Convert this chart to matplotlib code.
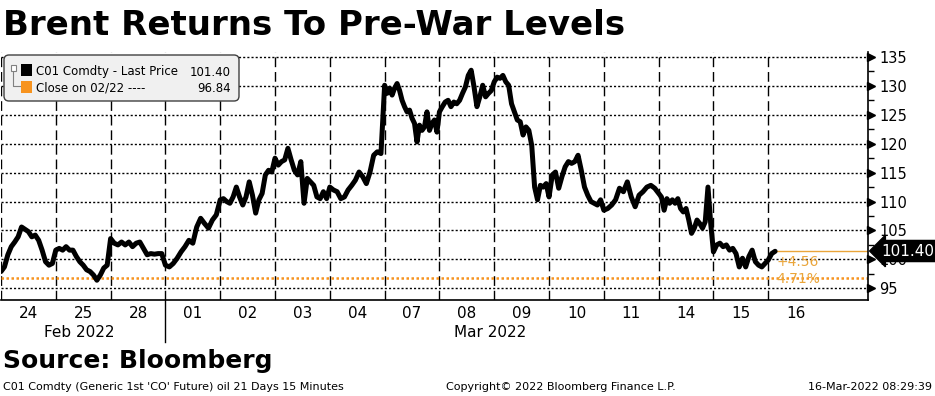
import numpy as np
import matplotlib
matplotlib.use("Agg")
import matplotlib.pyplot as plt
import matplotlib.transforms as mtransforms
from matplotlib.patches import FancyBboxPatch, Rectangle
from matplotlib.lines import Line2D

plt.rcParams["font.family"] = ["DejaVu Sans"]

# trading days shown on the x axis
day_labels = ["24", "25", "28", "01", "02", "03", "04", "07", "08", "09", "10", "11", "14", "15", "16"]

# C01 Comdty, 15 minute closes, one list per trading day
d24 = [97.9, 98.7, 100.8, 102.2, 103.0, 103.9, 105.6, 105.2, 104.8, 103.9, 104.2, 103.3, 101.6, 99.6, 99.0, 99.3]
d25 = [101.6, 101.9, 101.6, 102.2, 101.6, 101.6, 100.5, 99.6, 99.0, 98.2, 97.9, 97.3, 96.4, 97.3, 98.5, 99.0]
d28 = [103.6, 102.8, 102.5, 103.0, 102.5, 103.0, 102.2, 102.8, 103.0, 101.9, 100.8, 101.0, 100.9, 101.0, 101.0]
d01 = [99.0, 98.7, 99.3, 100.2, 101.3, 102.2, 103.3, 102.8, 105.6, 107.1, 106.2, 105.4, 106.8, 107.7]
d02 = [110.3, 110.5, 110.0, 109.7, 110.8, 112.5, 110.8, 109.4, 110.8, 113.4, 111.1, 108.0, 110.3, 111.4, 114.6, 115.4, 115.1]
d03 = [117.5, 116.3, 116.9, 117.2, 119.2, 117.2, 115.4, 114.6, 116.9, 109.7, 114.0, 113.4, 112.8, 110.8, 110.5, 111.7, 110.5]
d04 = [112.5, 112.0, 111.7, 110.5, 110.8, 112.0, 112.8, 113.7, 115.1, 114.3, 113.1, 115.1, 118.0, 118.6, 118.3]
d07 = [130.1, 128.7, 129.6, 128.4, 129.6, 130.4, 129.2, 127.5, 126.4, 125.5, 125.8, 124.4, 123.5, 120.3, 123.2,
       122.3, 122.9, 125.5, 122.3, 123.5, 124.1, 122.0]
d08 = [125.5, 126.4, 127.2, 127.5, 126.4, 127.2, 126.9, 127.5, 128.7, 129.8, 131.8, 132.7, 129.8, 126.4, 128.1,
       130.1, 128.1, 128.7, 129.2]
d09 = [130.7, 131.5, 131.3, 131.8, 130.7, 130.1, 126.9, 125.5, 124.1, 123.8, 121.5, 122.9, 122.3, 119.7, 112.5,
       110.3, 112.8, 112.5, 113.1]
d10 = [110.8, 114.6, 115.1, 112.3, 114.3, 116.0, 116.9, 116.6, 116.9, 118.0, 115.4, 112.5, 111.1, 110.0, 109.7, 109.4, 110.3]
d11 = [108.5, 108.8, 109.4, 110.3, 112.3, 111.7, 113.4, 110.8, 109.1, 111.1, 111.7, 112.5, 112.8, 112.3]
d14 = [111.4, 110.8, 108.5, 110.5, 109.7, 110.3, 109.7, 110.5, 108.8, 108.2, 108.8, 106.8, 104.5, 105.4, 106.8,
       106.2, 105.4, 106.5, 112.5, 106.2]
d15 = [101.3, 102.5, 102.8, 102.2, 102.5, 101.6, 101.9, 101.0, 98.7, 100.2, 98.7, 100.5, 101.6, 99.6, 99.0, 98.7, 99.3]
d16 = [99.9, 101.0, 101.40]  # session still open

days = [d24, d25, d28, d01, d02, d03, d04, d07, d08, d09, d10, d11, d14, d15, d16]

close_0222 = 96.84
last_price = 101.40

# x position: day index plus fraction of the session
xs, ys = [], []
for i, vals in enumerate(days):
    n = len(vals) if i < len(days) - 1 else 16
    for j, v in enumerate(vals):
        xs.append(i + j / n)
        ys.append(v)
xs = np.array(xs)
ys = np.array(ys)

W, H = 935, 396
fig = plt.figure(figsize=(W / 100, H / 100), dpi=100)
ax = fig.add_axes([1 / W, 1 - 300 / H, 867 / W, 248 / H])
ax.set_xlim(0, 15.82)
ax.set_ylim(92.98, 135.85)

# grid
for i in range(len(days)):
    ax.axvline(i, color="black", lw=1, ls=(0, (7, 3.5)), zorder=1)
for v in range(95, 140, 5):
    ax.axhline(v, color="black", lw=1, ls=(0, (1.5, 1.5)), zorder=1)

orange = "#f7931e"
amber = "#eaa53a"
ax.axhline(close_0222, color=orange, lw=1.8, ls=(0, (1, 1)), zorder=2)
ax.plot(xs, ys, color="black", lw=3.6, solid_joinstyle="round", solid_capstyle="round", zorder=3)
ax.plot([xs[-1], 15.82], [last_price, last_price], color=amber, lw=1, zorder=2)

chg = last_price - close_0222
pct = chg / close_0222 * 100
ax.annotate(f"+{chg:.2f}", (xs[-1], last_price), xytext=(1, -11), textcoords="offset pixels",
            ha="left", va="center", color=amber, fontsize=10)
ax.annotate(f"{pct:.2f}%", (xs[-1], last_price), xytext=(1, -28), textcoords="offset pixels",
            ha="left", va="center", color=amber, fontsize=10)

# spines / ticks
for s in ["top", "left"]:
    ax.spines[s].set_visible(False)
ax.spines["bottom"].set_linewidth(1.2)
ax.spines["right"].set_linewidth(1.2)

ax.yaxis.tick_right()
ax.set_yticks(range(95, 140, 5))
ax.set_yticks(np.arange(97.5, 136, 5), minor=True)
ax.tick_params(axis="y", which="major", length=0, pad=8, labelsize=10.5)
ax.tick_params(axis="y", which="minor", length=4, width=1, direction="out")
tri = mtransforms.offset_copy(ax.get_yaxis_transform(), fig=fig, x=3, y=0, units="dots")
ax.plot([1] * 9, list(range(95, 140, 5)), ls="none", marker=">", ms=5.5, color="black",
        transform=tri, clip_on=False)

ax.set_xticks(np.arange(len(days)) + 0.5)
ax.set_xticklabels(day_labels)
ax.tick_params(axis="x", length=0, pad=4, labelsize=11)

blend = mtransforms.blended_transform_factory(ax.transData, ax.transAxes)
ax.text(1.43, -0.13, "Feb 2022", transform=blend, ha="center", va="center", fontsize=11)
ax.text(8.93, -0.13, "Mar 2022", transform=blend, ha="center", va="center", fontsize=11)
ax.plot([3, 3], [0, -0.17], transform=blend, color="black", lw=1, clip_on=False)

# last price tag
fig.text(881 / W, 1 - 251 / H, f"{last_price:.2f}", color="white", fontsize=11, ha="left", va="center",
         bbox=dict(boxstyle="larrow,pad=0.2", fc="black", ec="black"), zorder=8)

# legend box
px = mtransforms.IdentityTransform()
fig.patches.append(FancyBboxPatch((4, H - 101), 235, 46, boxstyle="round,pad=0,rounding_size=5",
                                  fc="#f0f0f0", ec="#404040", lw=1, transform=px, figure=fig, zorder=5))
fig.patches.append(Rectangle((10.5, H - 71), 5, 6, fc="white", ec="#808080", lw=0.8, transform=px,
                             figure=fig, zorder=6))
fig.lines.append(Line2D([11.5, 14.5], [H - 68, H - 68], color="#808080", lw=0.7, transform=px, zorder=6))
fig.lines.append(Line2D([13, 13, 20], [H - 71, H - 86, H - 86], color="#808080", lw=0.8, transform=px, zorder=6))
fig.patches.append(Rectangle((21, H - 76), 11, 12, fc="black", ec="none", transform=px, figure=fig, zorder=6))
fig.patches.append(Rectangle((21, H - 93), 11, 12, fc=orange, ec="none", transform=px, figure=fig, zorder=6))
fig.text(36 / W, 1 - 72 / H, "C01 Comdty - Last Price", fontsize=8.5, va="center", zorder=7)
fig.text(231 / W, 1 - 72 / H, f"{last_price:.2f}", fontsize=8.5, va="center", ha="right", zorder=7)
fig.text(36 / W, 1 - 88 / H, "Close on 02/22 ----", fontsize=8.5, va="center", zorder=7)
fig.text(231 / W, 1 - 88 / H, f"{close_0222:.2f}", fontsize=8.5, va="center", ha="right", zorder=7)

# titles and footer
fig.text(3 / W, 1 - 35 / H, "Brent Returns To Pre-War Levels", fontsize=24.5, weight="bold", va="baseline")
fig.text(3 / W, 1 - 368 / H, "Source: Bloomberg", fontsize=18, weight="bold", va="baseline")
fig.text(3 / W, 1 - 390 / H, "C01 Comdty (Generic 1st 'CO' Future) oil 21 Days 15 Minutes", fontsize=8, va="baseline")
fig.text(561 / W, 1 - 390 / H, "Copyright\u00a9 2022 Bloomberg Finance L.P.", fontsize=8, va="baseline", ha="center")
fig.text(932 / W, 1 - 390 / H, "16-Mar-2022 08:29:39", fontsize=8, va="baseline", ha="right")

fig.savefig("out.png", dpi=100)
